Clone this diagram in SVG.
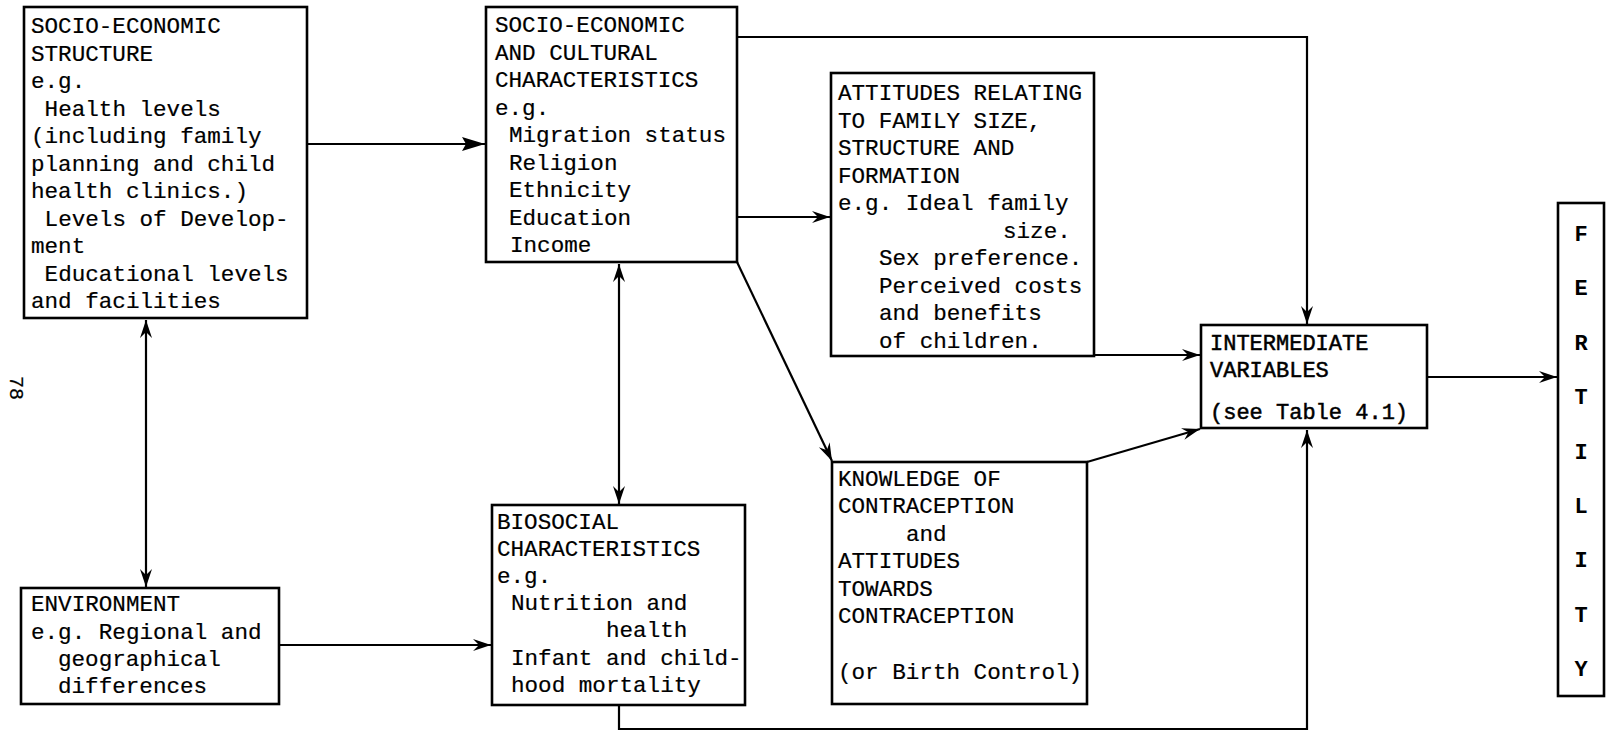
<svg xmlns="http://www.w3.org/2000/svg" width="1610" height="731" viewBox="0 0 1610 731">
<style>
.box{fill:#fff;stroke:#000;stroke-width:2.6}
.t{font-family:"Liberation Mono",monospace;font-size:22.6px;fill:#000;stroke:#000;stroke-width:0.2}
.c{font-family:"Liberation Mono",monospace;font-size:22px;fill:#000;stroke:#000;stroke-width:0.5}
.f{font-family:"Liberation Mono",monospace;font-size:22px;font-weight:bold;fill:#000;text-anchor:middle}
.ln{fill:none;stroke:#000;stroke-width:2.2}
</style>
<defs>
<marker id="a" markerUnits="userSpaceOnUse" markerWidth="24" markerHeight="16" viewBox="-20 -8 22 16" refX="0" refY="0" orient="auto-start-reverse">
<path d="M0,0 L-18,-6 L-12,0 L-18,6 Z" fill="#000"/>
</marker>
<marker id="b" markerUnits="userSpaceOnUse" markerWidth="26" markerHeight="18" viewBox="-24 -9 26 18" refX="0" refY="0" orient="auto">
<path d="M0,0 L-23,-7 L-19,0 L-23,7 Z" fill="#000"/>
</marker>
</defs>
<rect width="1610" height="731" fill="#fff"/>

<g id="connectors">
<line class="ln" x1="307" y1="144" x2="485" y2="144" marker-end="url(#b)"/>
<line class="ln" x1="146" y1="320" x2="146" y2="587" marker-start="url(#a)" marker-end="url(#a)"/>
<line class="ln" x1="279" y1="645" x2="491" y2="645" marker-end="url(#a)"/>
<line class="ln" x1="619" y1="264" x2="619" y2="504" marker-start="url(#a)" marker-end="url(#a)"/>
<line class="ln" x1="737" y1="217" x2="830" y2="217" marker-end="url(#a)"/>
<polyline class="ln" points="737,37 1307,37 1307,324" marker-end="url(#a)"/>
<line class="ln" x1="737" y1="262" x2="832" y2="461" marker-end="url(#a)"/>
<line class="ln" x1="1094" y1="355" x2="1200" y2="355" marker-end="url(#a)"/>
<line class="ln" x1="1087" y1="462" x2="1200" y2="429" marker-end="url(#a)"/>
<polyline class="ln" points="619,705 619,729 1307,729 1307,430" marker-end="url(#a)"/>
<line class="ln" x1="1427" y1="377" x2="1557" y2="377" marker-end="url(#a)"/>
</g>

<g id="socio-economic-structure">
<rect class="box" x="24" y="7" width="283" height="311"/>
<text class="t" x="31" y="33">SOCIO-ECONOMIC</text>
<text class="t" x="31" y="60.5">STRUCTURE</text>
<text class="t" x="31" y="88">e.g.</text>
<text class="t" x="44.6" y="115.5">Health levels</text>
<text class="t" x="31" y="143">(including family</text>
<text class="t" x="31" y="170.5">planning and child</text>
<text class="t" x="31" y="198">health clinics.)</text>
<text class="t" x="44.6" y="225.5">Levels of Develop-</text>
<text class="t" x="31" y="253">ment</text>
<text class="t" x="44.6" y="280.5">Educational levels</text>
<text class="t" x="31" y="308">and facilities</text>
</g>

<g id="socio-economic-cultural">
<rect class="box" x="486" y="7" width="251" height="255"/>
<text class="t" x="495" y="32">SOCIO-ECONOMIC</text>
<text class="t" x="495" y="60">AND CULTURAL</text>
<text class="t" x="495" y="87">CHARACTERISTICS</text>
<text class="t" x="495" y="115">e.g.</text>
<text class="t" x="509" y="142">Migration status</text>
<text class="t" x="509" y="170">Religion</text>
<text class="t" x="509" y="197">Ethnicity</text>
<text class="t" x="509" y="225">Education</text>
<text class="t" x="510" y="252">Income</text>
</g>

<g id="attitudes">
<rect class="box" x="831" y="73" width="263" height="283"/>
<text class="t" x="838" y="100">ATTITUDES RELATING</text>
<text class="t" x="838" y="127.6">TO FAMILY SIZE,</text>
<text class="t" x="838" y="155.1">STRUCTURE AND</text>
<text class="t" x="838" y="182.7">FORMATION</text>
<text class="t" x="838" y="210.2">e.g. Ideal family</text>
<text class="t" x="1003" y="237.8">size.</text>
<text class="t" x="879" y="265.3">Sex preference.</text>
<text class="t" x="879" y="292.9">Perceived costs</text>
<text class="t" x="879" y="320.4">and benefits</text>
<text class="t" x="879" y="348">of children.</text>
</g>

<g id="intermediate-variables">
<rect class="box" x="1201" y="325" width="226" height="103"/>
<text class="c" x="1210" y="350">INTERMEDIATE</text>
<text class="c" x="1210" y="377">VARIABLES</text>
<text class="c" x="1210" y="419">(see Table 4.1)</text>
</g>

<g id="fertility">
<rect class="box" x="1558" y="203" width="46" height="493"/>
<text class="f" x="1581" y="241">F</text>
<text class="f" x="1581" y="295">E</text>
<text class="f" x="1581" y="350">R</text>
<text class="f" x="1581" y="404">T</text>
<text class="f" x="1581" y="459">I</text>
<text class="f" x="1581" y="513">L</text>
<text class="f" x="1581" y="567">I</text>
<text class="f" x="1581" y="622">T</text>
<text class="f" x="1581" y="676">Y</text>
</g>

<g id="environment">
<rect class="box" x="21" y="588" width="258" height="116"/>
<text class="t" x="31" y="611">ENVIRONMENT</text>
<text class="t" x="31" y="639">e.g. Regional and</text>
<text class="t" x="58" y="666">geographical</text>
<text class="t" x="58" y="693">differences</text>
</g>

<g id="biosocial">
<rect class="box" x="492" y="505" width="253" height="200"/>
<text class="t" x="497" y="529">BIOSOCIAL</text>
<text class="t" x="497" y="556">CHARACTERISTICS</text>
<text class="t" x="497" y="583">e.g.</text>
<text class="t" x="511" y="610">Nutrition and</text>
<text class="t" x="606" y="637">health</text>
<text class="t" x="511" y="665">Infant and child-</text>
<text class="t" x="511" y="692">hood mortality</text>
</g>

<g id="knowledge">
<rect class="box" x="832" y="462" width="255" height="242"/>
<text class="t" x="838" y="486">KNOWLEDGE OF</text>
<text class="t" x="838" y="513.4">CONTRACEPTION</text>
<text class="t" x="906" y="540.8">and</text>
<text class="t" x="838" y="568.2">ATTITUDES</text>
<text class="t" x="838" y="595.6">TOWARDS</text>
<text class="t" x="838" y="623">CONTRACEPTION</text>
<text class="t" x="838" y="679">(or Birth Control)</text>
</g>

<g id="page-number">
<text class="t" x="0" y="0" transform="translate(10,388) rotate(90)" text-anchor="middle" style="font-size:20px">78</text>
</g>
</svg>
